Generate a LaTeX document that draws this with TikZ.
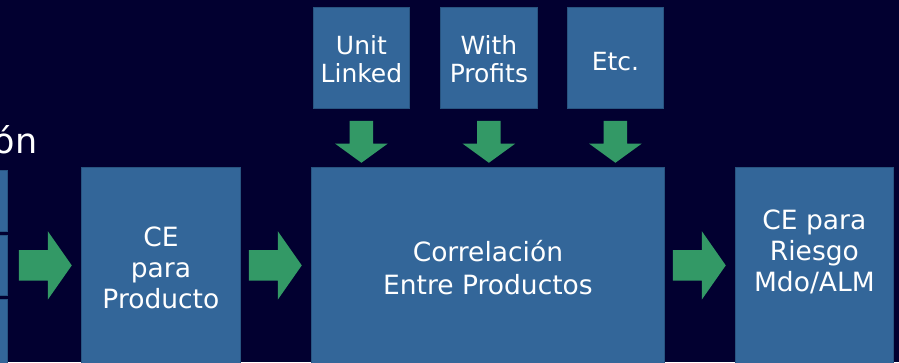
\documentclass[tikz,border=0pt]{standalone}
\usepackage{fontspec}
\setmainfont{DejaVu Sans}
\usetikzlibrary{shapes.arrows,calc}
\definecolor{fondo}{RGB}{2,0,48}
\definecolor{caja}{RGB}{51,102,153}
\definecolor{borde}{RGB}{40,84,128}
\definecolor{flecha}{RGB}{51,153,102}
\tikzset{
  caja/.style={draw=borde, fill=caja, line width=0.8pt, inner sep=0pt, anchor=north west},
  texto/.style={text=white, align=center, inner sep=0pt, font=\fontsize{26.5}{31}\selectfont},
  textochico/.style={texto, font=\fontsize{25}{28}\selectfont},
  flechah/.style={single arrow, fill=flecha, inner sep=0pt, text width=0pt,
    text height=15pt, text depth=15pt, minimum height=53pt,
    single arrow head extend=19pt, single arrow tip angle=110,
    single arrow head indent=0pt, anchor=tip},
  flechav/.style={single arrow, fill=flecha, inner sep=0pt, text width=0pt,
    text height=11.5pt, text depth=11.5pt, minimum height=42pt,
    single arrow head extend=14.5pt, single arrow tip angle=108,
    single arrow head indent=0pt, rotate=-90, anchor=tip}
}
\begin{document}
\begin{tikzpicture}[x=1pt,y=1pt]
  \fill [fondo] (0,0) rectangle (899,-362);
  \useasboundingbox (0,0) rectangle (899,-362);
  % titulo cortado
  \node [anchor=base east, text=white, inner sep=0pt, font=\fontsize{35}{35}\selectfont] (titulo) at (37.5,-153) {ón};
  % cajas de la izquierda
  \node [caja, minimum width=67pt, minimum height=61pt] (izq1) at (-60,-170) {};
  \node [caja, minimum width=67pt, minimum height=60pt] (izq2) at (-60,-235) {};
  \node [caja, minimum width=67pt, minimum height=68pt] (izq3) at (-60,-299) {};
  % cajas principales
  \node [caja, minimum width=159pt, minimum height=200pt] (prod) at (81,-167) {};
  \node [caja, minimum width=353pt, minimum height=200pt] (corr) at (311,-167) {};
  \node [caja, minimum width=158pt, minimum height=200pt] (riesgo) at (735,-167) {};
  \node [texto] (prodtxt) at (prod.center) {CE\\para\\Producto};
  \node [texto, font=\fontsize{26.5}{33}\selectfont] (corrtxt) at (corr.center) {Correlación\\Entre Productos};
  \node [texto] (riesgotxt) at ([yshift=16]riesgo.center) {CE para\\Riesgo\\Mdo/ALM};
  % productos de arriba
  \node [caja, minimum width=96pt, minimum height=101pt] (unit) at (313,-7) {};
  \node [caja, minimum width=97pt, minimum height=101pt] (profits) at (440,-7) {};
  \node [caja, minimum width=96pt, minimum height=101pt] (etc) at (567,-7) {};
  \node [textochico] (unittxt) at ([yshift=-1.5]unit.center) {Unit\\Linked};
  \node [textochico] (profitstxt) at ([yshift=-1.5]profits.center) {With\\Profits};
  \node [textochico] (etctxt) at ([yshift=-4]etc.center) {Etc.};
  % flechas
  \node [flechah] (f1) at ([xshift=-9,yshift=2]prod.west) {};
  \node [flechah] (f2) at ([xshift=-9,yshift=2]corr.west) {};
  \node [flechah] (f3) at ([xshift=-9,yshift=2]riesgo.west) {};
  \node [flechav] (f4) at ([yshift=4]unit.south|-corr.north) {};
  \node [flechav] (f5) at ([yshift=4]profits.south|-corr.north) {};
  \node [flechav] (f6) at ([yshift=4]etc.south|-corr.north) {};
\end{tikzpicture}
\end{document}
